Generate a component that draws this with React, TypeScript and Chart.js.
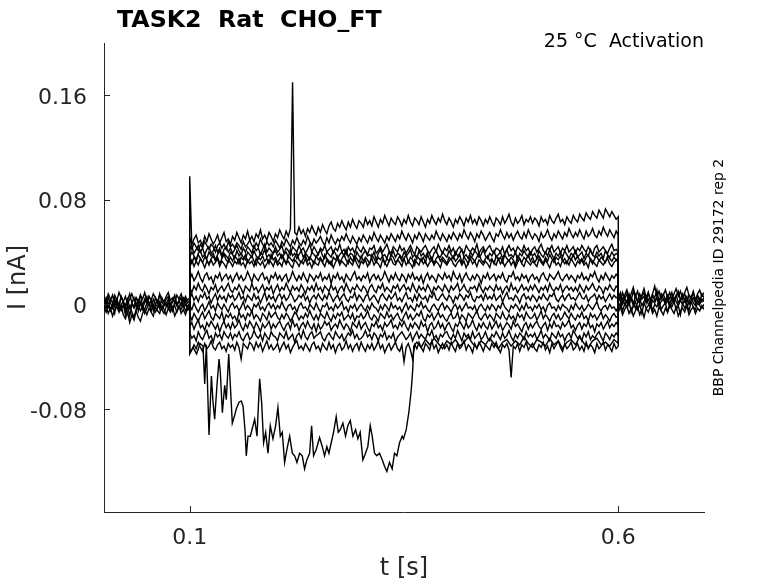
import React, { useEffect, useRef } from "react";
import { Chart, registerables, Plugin } from "chart.js";

Chart.register(...registerables);

// pulse protocol (s)
const pulseStart = 0.1;
const pulseEnd = 0.6;
const sweepEnd = 0.7;

const xTicks = [0.1, 0.6];
const yTicks = [-0.08, 0, 0.08, 0.16];

// currents in pA, evenly sampled (2.5 ms) from 0.1 s to 0.6 s
const trace1 = [
  51, 46, 50, 53, 47, 49, 45, 52, 48, 54, 50, 46, 49, 53, 47, 51, 55, 48, 50, 46,
  52, 49, 55, 51, 47, 53, 50, 56, 49, 52, 48, 54, 51, 57, 50, 53, 49, 55, 52, 48,
  54, 51, 57, 53, 50, 56, 52, 58, 170, 55, 53, 59, 54, 57, 52, 58, 55, 60, 56, 53,
  59, 55, 61, 57, 54, 60, 63, 58, 56, 62, 59, 64, 60, 57, 63, 59, 65, 61, 58, 64,
  62, 59, 66, 61, 64, 60, 67, 63, 59, 65, 62, 68, 64, 60, 66, 63, 61, 67, 64, 60,
  65, 62, 68, 63, 60, 66, 64, 61, 67, 63, 59, 65, 62, 68, 64, 61, 66, 63, 69, 64,
  61, 66, 63, 59, 65, 62, 67, 64, 60, 66, 63, 68, 62, 65, 61, 67, 64, 60, 65, 62,
  67, 63, 60, 66, 64, 61, 67, 62, 65, 69, 63, 60, 66, 62, 64, 68, 61, 65, 63, 67,
  62, 66, 64, 60, 67, 63, 65, 61, 68, 64, 62, 66, 69, 63, 65, 61, 67, 64, 62, 68,
  65, 63, 69, 66, 64, 70, 67, 65, 71, 68, 66, 72, 69, 66, 73, 70, 67, 71, 68, 65,
  67,
];
const trace2 = [
  45, 42, 47, 44, 41, 46, 43, 48, 45, 42, 46, 44, 40, 45, 47, 43, 46, 42, 48, 44,
  46, 43, 47, 45, 42, 48, 44, 46, 49, 45, 43, 47, 44, 50, 46, 43, 48, 45, 47, 44,
  49, 46, 43, 48, 45, 50, 47, 44, 49, 46, 51, 47, 45, 49, 46, 52, 48, 45, 50, 47,
  49, 52, 48, 45, 51, 47, 53, 49, 46, 50, 48, 52, 49, 54, 50, 47, 52, 49, 46, 51,
  48, 53, 50, 47, 52, 49, 55, 51, 48, 53, 50, 47, 52, 49, 54, 51, 48, 53, 50, 56,
  52, 49, 54, 51, 47, 53, 50, 55, 52, 48, 54, 51, 49, 53, 50, 56, 52, 49, 54, 51,
  48, 53, 50, 55, 52, 49, 54, 51, 57, 53, 50, 55, 52, 48, 54, 51, 56, 53, 49, 52,
  55, 51, 48, 54, 52, 57, 53, 50, 55, 51, 54, 49, 53, 56, 52, 50, 55, 51, 57, 53,
  50, 54, 52, 48, 55, 51, 53, 57, 52, 49, 54, 51, 56, 53, 50, 55, 52, 58, 54, 51,
  55, 52, 57, 53, 50, 56, 52, 54, 58, 53, 51, 56, 53, 59, 55, 52, 57, 54, 51, 56,
  53,
];
const trace3 = [
  98, 44, 39, 42, 45, 40, 43, 38, 42, 44, 39, 41, 45, 40, 43, 37, 42, 44, 40, 43,
  39, 42, 45, 41, 38, 43, 40, 44, 42, 39, 45, 41, 43, 38, 42, 46, 40, 43, 41, 39,
  44, 40, 42, 45, 39, 43, 41, 38, 44, 42, 40, 45, 41, 43, 39, 42, 46, 40, 44, 41,
  38, 43, 41, 45, 40, 42, 44, 39, 43, 41, 46, 40, 42, 38, 44, 41, 43, 39, 45, 42,
  40, 44, 41, 38, 43, 42, 45, 39, 41, 44, 40, 43, 46, 41, 39, 44, 42, 40, 45, 41,
  43, 39, 42, 45, 41, 38, 44, 42, 40, 43, 45, 41, 39, 42, 44, 40, 46, 42, 39, 43,
  41, 45, 40, 43, 38, 42, 44, 41, 39, 45, 42, 40, 43, 41, 46, 39, 42, 44, 40, 43,
  45, 41, 39, 43, 42, 40, 44, 38, 42, 45, 41, 43, 39, 44, 42, 40, 45, 41, 43, 38,
  42, 44, 40, 43, 46, 41, 39, 43, 42, 45, 40, 42, 44, 39, 43, 41, 45, 40, 42, 44,
  39, 43, 41, 45, 42, 40, 44, 41, 38, 43, 45, 40, 42, 44, 41, 39, 43, 46, 41, 42,
  40,
];
const trace4 = [
  36, 40, 37, 34, 39, 41, 36, 38, 35, 40, 37, 39, 34, 38, 41, 36, 39, 37, 35, 40,
  38, 35, 41, 37, 39, 36, 34, 40, 38, 36, 41, 37, 35, 39, 38, 42, 36, 38, 35, 39,
  41, 37, 39, 35, 38, 40, 36, 42, 37, 39, 35, 38, 41, 36, 39, 37, 34, 40, 38, 36,
  39, 42, 37, 35, 40, 38, 36, 41, 39, 35, 38, 40, 37, 42, 36, 39, 38, 34, 40, 37,
  35, 39, 41, 37, 38, 36, 40, 34, 39, 42, 37, 38, 35, 40, 37, 41, 36, 39, 38, 35,
  40, 37, 39, 42, 36, 38, 35, 41, 37, 39, 36, 40, 38, 34, 39, 41, 37, 36, 40, 38,
  36, 41, 38, 35, 40, 37, 39, 42, 36, 38, 35, 40, 37, 41, 39, 36, 38, 42, 37, 35,
  39, 37, 41, 36, 38, 40, 35, 39, 42, 37, 38, 36, 40, 34, 39, 37, 41, 38, 36, 40,
  37, 39, 35, 41, 38, 36, 40, 37, 42, 38, 35, 39, 37, 40, 36, 41, 38, 35, 39, 37,
  41, 36, 38, 40, 35, 39, 37, 42, 38, 36, 40, 37, 39, 35, 41, 38, 36, 40, 37, 39,
  38,
];
const trace5 = [
  34, 31, 36, 33, 38, 35, 32, 36, 34, 30, 35, 37, 33, 36, 31, 35, 38, 34, 32, 36,
  33, 37, 35, 31, 36, 34, 38, 32, 35, 37, 33, 30, 36, 34, 37, 33, 35, 31, 38, 34,
  36, 32, 35, 38, 34, 31, 37, 35, 33, 36, 39, 34, 32, 35, 37, 33, 36, 34, 31, 37,
  34, 36, 32, 38, 35, 33, 30, 36, 34, 37, 32, 35, 38, 34, 31, 36, 33, 37, 35, 32,
  37, 33, 36, 34, 31, 38, 35, 32, 36, 34, 37, 31, 35, 33, 38, 36, 32, 34, 37, 33,
  35, 38, 32, 36, 34, 30, 37, 35, 33, 36, 32, 38, 34, 36, 31, 35, 37, 33, 36, 34,
  31, 36, 34, 37, 33, 35, 38, 32, 36, 34, 31, 37, 35, 33, 36, 39, 34, 32, 35, 37,
  33, 35, 31, 37, 34, 36, 32, 38, 35, 33, 36, 34, 30, 37, 35, 32, 36, 34, 38, 33,
  36, 32, 35, 37, 34, 31, 36, 33, 38, 35, 32, 36, 34, 37, 33, 35, 31, 36, 34, 38,
  34, 37, 33, 35, 32, 36, 38, 34, 31, 35, 37, 33, 36, 34, 32, 37, 35, 33, 36, 34,
  35,
];
const trace6 = [
  31, 34, 29, 33, 30, 35, 32, 28, 33, 31, 34, 30, 32, 35, 29, 33, 31, 28, 34, 32,
  29, 33, 31, 35, 30, 32, 28, 34, 31, 33, 29, 35, 32, 30, 33, 28, 31, 34, 32, 29,
  34, 30, 32, 29, 35, 31, 33, 30, 28, 34, 32, 29, 33, 31, 35, 30, 32, 28, 33, 31,
  30, 35, 32, 29, 34, 31, 33, 28, 32, 35, 30, 33, 31, 29, 34, 32, 30, 35, 31, 28,
  33, 31, 34, 29, 32, 35, 30, 33, 31, 28, 34, 32, 29, 33, 35, 31, 30, 34, 32, 29,
  35, 30, 33, 31, 28, 34, 32, 30, 35, 31, 33, 29, 32, 34, 30, 33, 31, 28, 34, 32,
  30, 33, 35, 31, 29, 32, 34, 30, 33, 28, 32, 35, 31, 33, 29, 34, 32, 30, 33, 31,
  28, 34, 32, 30, 35, 31, 33, 29, 32, 34, 30, 33, 28, 32, 35, 31, 29, 34, 32, 30,
  33, 31, 29, 35, 32, 30, 34, 31, 28, 33, 35, 30, 32, 29, 34, 31, 33, 30, 35, 32,
  29, 33, 31, 34, 30, 32, 28, 35, 33, 31, 29, 34, 32, 30, 33, 35, 31, 29, 32, 34,
  32,
];
const trace7 = [
  19, 23, 18, 21, 25, 20, 17, 22, 24, 19, 21, 16, 22, 20, 24, 18, 21, 23, 19, 22,
  17, 21, 24, 19, 22, 18, 20, 25, 21, 17, 23, 20, 18, 22, 24, 19, 21, 16, 22, 20,
  24, 19, 22, 18, 21, 23, 17, 20, 25, 21, 18, 22, 19, 24, 20, 17, 23, 21, 18, 22,
  20, 24, 18, 21, 19, 23, 16, 22, 20, 24, 19, 21, 17, 23, 20, 18, 22, 25, 19, 21,
  18, 22, 20, 24, 17, 21, 23, 19, 22, 18, 20, 25, 21, 17, 22, 19, 24, 20, 18, 23,
  21, 17, 23, 20, 24, 19, 21, 18, 22, 16, 21, 24, 19, 22, 20, 17, 23, 21, 19, 24,
  20, 22, 18, 25, 21, 19, 23, 17, 21, 24, 20, 18, 22, 19, 23, 21, 16, 22, 20, 24,
  19, 21, 23, 18, 22, 20, 24, 19, 17, 22, 21, 25, 19, 21, 18, 23, 20, 22, 17, 21,
  23, 19, 21, 17, 22, 24, 20, 18, 23, 21, 19, 22, 25, 20, 18, 21, 23, 19, 22, 20,
  17, 22, 20, 24, 19, 21, 18, 23, 21, 25, 20, 17, 22, 19, 24, 21, 18, 22, 20, 23,
  21,
];
const trace8 = [
  13, 9, 14, 11, 16, 12, 10, 15, 12, 8, 13, 11, 15, 9, 12, 14, 10, 13, 16, 11,
  9, 13, 11, 15, 12, 8, 14, 12, 10, 16, 11, 13, 9, 12, 15, 10, 13, 11, 14, 8,
  12, 15, 10, 13, 11, 16, 12, 9, 14, 11, 13, 10, 15, 12, 8, 13, 11, 14, 10, 16,
  11, 13, 9, 14, 12, 10, 15, 11, 13, 8, 12, 14, 10, 16, 12, 9, 13, 11, 15, 12,
  10, 14, 12, 8, 13, 15, 11, 9, 14, 12, 16, 10, 13, 11, 9, 14, 12, 15, 10, 13,
  15, 11, 13, 10, 16, 12, 9, 14, 11, 13, 10, 15, 12, 8, 13, 11, 14, 12, 10, 15,
  12, 9, 14, 11, 13, 16, 10, 12, 15, 11, 9, 13, 12, 14, 10, 16, 12, 9, 13, 11,
  14, 12, 10, 15, 11, 13, 8, 12, 14, 10, 16, 11, 13, 9, 12, 15, 11, 13, 10, 14,
  11, 15, 12, 9, 13, 11, 14, 10, 16, 12, 10, 13, 11, 15, 9, 12, 14, 11, 13, 10,
  13, 10, 15, 12, 9, 14, 11, 13, 16, 12, 10, 14, 12, 8, 13, 11, 15, 12, 10, 14,
  12,
];
const trace9 = [
  4, 8, 3, 6, 2, 7, 5, 9, 4, 6, 1, 5, 8, 3, 7, 4, 6, 2, 8, 5,
  7, 3, 5, 9, 4, 6, 2, 7, 5, 3, 8, 4, 6, 1, 5, 9, 3, 7, 4, 6,
  2, 6, 8, 4, 7, 3, 5, 9, 6, 2, 4, 7, 5, 8, 3, 6, 1, 5, 7, 4,
  8, 5, 3, 7, 4, 9, 6, 2, 5, 7, 3, 6, 8, 4, 2, 6, 5, 9, 3, 7,
  5, 2, 6, 8, 3, 5, 7, 4, 1, 6, 8, 5, 3, 7, 4, 6, 9, 3, 5, 2,
  6, 9, 4, 5, 2, 7, 3, 8, 5, 4, 6, 2, 7, 5, 9, 4, 3, 6, 8, 5,
  3, 7, 5, 1, 6, 4, 8, 6, 3, 7, 5, 9, 4, 2, 6, 5, 7, 3, 8, 4,
  6, 4, 8, 3, 5, 7, 2, 6, 9, 4, 5, 3, 7, 5, 1, 6, 8, 4, 6, 3,
  7, 5, 2, 6, 4, 8, 5, 3, 7, 6, 9, 4, 2, 5, 7, 3, 6, 8, 4, 5,
  3, 6, 9, 5, 4, 7, 2, 5, 6, 8, 3, 7, 4, 6, 2, 5, 8, 4, 7, 5,
  6,
];
const trace10 = [
  -1, -4, 1, -3, -6, -2, 0, -5, -2, 2, -3, -1, -5, 1, -2, -4, 0, -3, -6, -1,
  1, -3, -1, -5, -2, 2, -4, -1, -3, -6, 0, -2, 1, -4, -2, -5, -1, 1, -3, 0,
  -4, -1, -3, 2, -2, -5, -1, 0, -4, -2, -6, -1, 1, -3, -2, -5, 0, -2, -4, 1,
  -3, -6, -1, -2, 1, -4, -2, -5, 0, -3, -1, 2, -4, -2, -6, -1, -3, 0, -5, -2,
  0, -3, -5, -1, -4, 1, -2, -3, -6, -1, -4, 0, -2, -5, 1, -3, -1, -4, -2, -6,
  -2, 1, -4, -1, -3, -5, 0, -2, 2, -3, -1, -4, -6, -2, 0, -3, -5, -1, 1, -4,
  -1, -3, -6, -2, 0, -4, -1, -5, -2, 1, -3, -2, -4, -1, -6, -2, 0, -3, -5, -1,
  -4, 0, -2, -5, -1, -3, 2, -2, -4, -6, -1, -3, 0, -2, -5, -1, -4, 1, -3, -2,
  -5, -1, -3, 0, -4, -2, -6, -1, 1, -3, -2, -5, -1, -4, 0, -2, -3, -6, -1, -4,
  1, -2, -4, -1, -5, -3, 0, -2, -4, -1, 2, -3, -5, -2, -1, -4, 0, -3, -2, -5,
  -2,
];
const trace11 = [
  -8, -12, -7, -10, -13, -9, -6, -11, -8, -5, -10, -12, -7, -9, -11, -6, -13, -8, -10, -7,
  -11, -9, -13, -6, -10, -8, -12, -7, -9, -5, -11, -8, -10, -13, -7, -9, -12, -6, -10, -8,
  -6, -10, -12, -8, -11, -7, -9, -13, -10, -6, -8, -12, -9, -11, -7, -10, -5, -9, -12, -8,
  -12, -7, -9, -11, -6, -10, -13, -8, -11, -7, -9, -6, -12, -10, -8, -11, -7, -13, -9, -10,
  -7, -11, -9, -5, -10, -12, -8, -10, -13, -7, -9, -11, -6, -10, -8, -12, -9, -7, -11, -13,
  -9, -6, -11, -8, -12, -10, -7, -9, -5, -11, -13, -8, -10, -7, -12, -9, -6, -10, -8, -11,
  -13, -9, -7, -11, -10, -6, -12, -8, -10, -13, -7, -9, -11, -8, -5, -10, -12, -9, -7, -11,
  -8, -10, -13, -7, -9, -11, -6, -10, -12, -8, -11, -9, -13, -7, -10, -8, -12, -6, -9, -11,
  -10, -7, -12, -9, -5, -11, -8, -10, -13, -9, -7, -11, -8, -12, -10, -6, -9, -11, -7, -10,
  -12, -8, -10, -6, -11, -9, -13, -7, -10, -8, -12, -9, -6, -11, -8, -10, -13, -9, -7, -10,
  -9,
];
const trace12 = [
  -17, -14, -19, -15, -12, -18, -16, -20, -14, -17, -13, -16, -19, -15, -21, -16, -13, -18, -15, -19,
  -14, -18, -16, -12, -17, -20, -15, -18, -13, -16, -19, -14, -17, -21, -15, -18, -16, -13, -19, -15,
  -18, -15, -13, -17, -20, -16, -14, -19, -12, -17, -15, -20, -16, -14, -18, -13, -17, -19, -15, -21,
  -15, -19, -17, -13, -16, -14, -20, -17, -15, -18, -12, -16, -19, -15, -17, -21, -14, -16, -18, -13,
  -19, -16, -14, -18, -21, -15, -17, -13, -18, -16, -20, -14, -17, -15, -12, -18, -16, -19, -14, -17,
  -13, -17, -20, -15, -18, -14, -16, -19, -13, -17, -15, -21, -16, -14, -19, -17, -13, -18, -15, -20,
  -16, -14, -18, -21, -15, -17, -13, -16, -19, -14, -18, -16, -12, -17, -20, -15, -18, -14, -17, -19,
  -14, -19, -16, -13, -18, -15, -20, -17, -14, -16, -19, -13, -17, -15, -18, -21, -16, -14, -19, -15,
  -18, -15, -13, -17, -19, -16, -14, -20, -15, -18, -13, -17, -16, -19, -14, -17, -15, -12, -18, -16,
  -20, -16, -14, -19, -15, -17, -13, -18, -16, -21, -15, -17, -14, -19, -16, -13, -18, -15, -17, -14,
  -16,
];
const trace13 = [
  -22, -26, -24, -28, -21, -25, -27, -23, -20, -26, -24, -29, -22, -25, -23, -27, -21, -24, -26, -22,
  -27, -23, -25, -21, -26, -28, -24, -22, -27, -25, -20, -24, -26, -23, -28, -22, -25, -27, -21, -24,
  -25, -28, -22, -24, -26, -21, -27, -25, -23, -29, -24, -22, -26, -20, -25, -27, -23, -21, -26, -24,
  -23, -21, -26, -28, -24, -22, -25, -27, -21, -24, -26, -23, -28, -25, -22, -24, -20, -26, -23, -27,
  -26, -24, -20, -25, -23, -27, -22, -24, -28, -23, -25, -21, -27, -24, -26, -22, -29, -25, -23, -21,
  -24, -27, -25, -22, -28, -24, -21, -26, -23, -25, -27, -22, -24, -20, -26, -24, -28, -23, -25, -22,
  -21, -25, -27, -23, -26, -20, -24, -28, -22, -25, -23, -27, -21, -26, -24, -22, -27, -25, -21, -26,
  -28, -23, -25, -21, -24, -27, -22, -26, -24, -20, -25, -28, -23, -26, -22, -24, -27, -21, -25, -23,
  -25, -22, -27, -24, -20, -26, -23, -25, -28, -22, -24, -26, -21, -25, -23, -28, -24, -22, -26, -20,
  -23, -26, -24, -28, -22, -25, -21, -27, -24, -26, -23, -21, -25, -28, -22, -24, -27, -23, -25, -22,
  -24,
];
const trace14 = [
  -38, -35, -31, -34, -29, -33, -36, -30, -34, -32, -28, -33, -35, -31, -29, -34, -32, -36, -30, -33,
  -31, -35, -29, -33, -42, -30, -32, -34, -29, -31, -35, -29, -33, -30, -36, -32, -28, -34, -31, -35,
  -33, -30, -36, -32, -29, -34, -31, -37, -33, -30, -28, -34, -32, -35, -30, -33, -36, -31, -29, -34,
  -32, -36, -30, -33, -35, -29, -34, -31, -37, -32, -30, -35, -33, -28, -34, -31, -36, -32, -30, -35,
  -29, -33, -36, -31, -34, -30, -35, -32, -28, -34, -31, -37, -33, -30, -35, -32, -29, -34, -36, -31,
  -44, -33, -30, -35, -42, -31, -34, -29, -33, -36, -30, -32, -35, -28, -34, -31, -37, -33, -30, -34,
  -31, -35, -29, -33, -36, -30, -34, -32, -28, -35, -31, -33, -37, -30, -34, -29, -32, -36, -31, -33,
  -35, -30, -33, -29, -34, -37, -31, -33, -30, -35, -56, -32, -34, -30, -36, -31, -33, -29, -35, -32,
  -30, -34, -36, -31, -33, -29, -35, -32, -37, -30, -34, -31, -28, -33, -36, -30, -34, -32, -29, -35,
  -33, -30, -35, -32, -36, -29, -34, -31, -33, -37, -30, -34, -32, -29, -35, -31, -33, -36, -30, -34,
  -32,
];

// the sweep with the large inward current: times (s) and currents (pA)
const dipTimes = [
  0.1, 0.104, 0.108, 0.112, 0.1155, 0.1175, 0.1194, 0.1225, 0.1253, 0.1272,
  0.1291, 0.1318, 0.1342, 0.1357, 0.1381, 0.1408, 0.1427, 0.1455, 0.1474, 0.1497,
  0.1524, 0.1544, 0.1575, 0.1602, 0.1622, 0.1645, 0.166, 0.168, 0.1707, 0.1738,
  0.1758, 0.1785, 0.1816, 0.1839, 0.1862, 0.1886, 0.1913, 0.194, 0.1971, 0.2002,
  0.2029, 0.2057, 0.208, 0.2107, 0.2134, 0.2166, 0.2197, 0.2224, 0.2251, 0.2282,
  0.2313, 0.234, 0.2367, 0.2399, 0.2422, 0.2445, 0.2477, 0.2515, 0.2547, 0.2573,
  0.26, 0.2624, 0.2651, 0.2678, 0.2709, 0.2733, 0.2756, 0.2787, 0.2818, 0.2845,
  0.2873, 0.2904, 0.2935, 0.2962, 0.2989, 0.302, 0.3051, 0.3078, 0.3106, 0.3129,
  0.3156, 0.3183, 0.3214, 0.3246, 0.3273, 0.33, 0.3331, 0.3362, 0.3389, 0.3417,
  0.3448, 0.3479, 0.3494, 0.3526, 0.3556, 0.3584, 0.3602, 0.3614,
];
const dipValues = [
  -37, -33, -38, -30, -32, -61, -31, -100, -55, -75,
  -88, -62, -42, -52, -83, -62, -73, -38, -62, -91,
  -85, -80, -75, -74, -78, -96, -116, -101, -101, -93,
  -88, -101, -57, -75, -106, -98, -114, -93, -103, -93,
  -79, -101, -98, -121, -111, -101, -114, -116, -121, -114,
  -116, -126, -119, -114, -93, -116, -111, -102, -109, -116,
  -109, -114, -106, -98, -86, -98, -96, -91, -101, -93,
  -89, -101, -96, -103, -98, -119, -114, -109, -93, -101,
  -114, -116, -114, -119, -124, -128, -121, -126, -114, -116,
  -106, -101, -103, -96, -83, -66, -50, -32,
];
// the same sweep once the inward current has gone, 5 ms apart from 0.365 s
const tailValues = [
  -29, -33, -27, -31, -26, -30, -34, -28, -31, -27, -32, -29, -25, -30, -33, -28,
  -31, -26, -30, -34, -29, -27, -32, -28, -31, -25, -30, -33, -27, -29, -32, -26,
  -31, -28, -34, -29, -27, -31, -25, -30, -33, -28, -26, -31, -29, -32, -27, -30,
];
const tailStart = 0.365;

// holding current before (0-0.1 s) and after (0.6-0.7 s) the pulse, pA
const preBase1 = [3, -1, 5, 1, -3, 4, 0, -2, 6, 2, -1, 4, -3, 1, 5, -2, 3, 0, -4, 2, 6, 1, -2, 4, 0, 3, -3, 5, 1, -1, 4, -2, 2, 6, 0, 3, -1, 5, 2, -2, 1];
const preBase2 = [-3, 2, -1, -5, 1, -2, 3, -4, 0, 2, -6, -1, -9, 0, -3, 1, -5, 2, -2, -4, 1, -1, 3, -5, 0, -2, 2, -4, -1, 1, -3, 0, -5, 2, -1, -3, 1, -2, 0, -4, -1];
const preBase3 = [6, 2, 8, 4, 1, 7, 3, 9, 5, 2, 6, 0, 4, 8, 3, 5, 1, 7, 4, 9, 2, 6, 3, 8, 5, 1, 7, 4, 2, 6, 9, 3, 5, 1, 7, 4, 8, 2, 6, 3, 5];
const preBase4 = [-5, -1, -7, -3, -9, -4, -2, -6, -1, -8, -11, -6, -14, -8, -12, -5, -10, -13, -7, -4, -8, -3, -6, -9, -2, -5, -7, -1, -4, -8, -3, -6, -2, -9, -5, -1, -7, -4, -8, -3, -5];
const preBase5 = [1, 5, -2, 3, 7, 0, 4, -1, 6, 2, -3, 3, 8, 1, -2, 5, 2, 7, -1, 4, 0, 6, 3, -2, 5, 1, 8, 2, -1, 4, 6, 0, 3, 7, -1, 2, 5, -2, 4, 1, 3];
const preBase6 = [-2, -6, 1, -4, -1, -7, 2, -3, -5, 0, -8, -3, -1, -6, -10, -4, 0, -5, -2, -7, -3, 1, -5, -1, -6, -3, 0, -4, -7, -2, 1, -5, -3, -1, -6, -2, -4, 0, -5, -3, -1];
const postBase1 = [5, 9, 3, 7, 11, 4, 8, 13, 6, 10, 2, 7, 12, 5, 9, 3, 8, 14, 6, 10, 4, 7, 11, 5, 9, 3, 8, 12, 6, 10, 4, 9, 13, 7, 5, 10, 3, 8, 11, 6, 9];
const postBase2 = [-3, 1, -5, 0, -2, 3, -6, -1, 2, -4, 0, -7, 1, -3, -1, 2, -5, 0, -2, 3, -4, -1, 1, -6, 0, -2, 2, -4, -1, -8, 1, -3, 0, -5, 2, -2, -4, 1, -1, -3, 0];
const postBase3 = [1, -2, 4, 0, 3, -1, 5, 2, -3, 1, 4, -1, 2, 6, 0, -2, 3, 1, 5, -1, 2, 4, 0, 3, -2, 1, 5, 2, -1, 3, 0, 4, -2, 2, 6, 1, -1, 3, 0, 4, 2];
const postBase4 = [7, 2, 9, 4, 1, 8, 3, 10, 5, 2, 8, 4, 6, 1, 9, 3, 7, 5, 11, 2, 6, 8, 3, 7, 4, 9, 2, 6, 10, 3, 5, 8, 1, 7, 4, 9, 3, 6, 2, 8, 5];
const postBase5 = [-6, -2, -8, -4, -1, -7, -3, -9, -5, -2, -8, -4, -10, -3, -6, -1, -7, -4, -9, -2, -5, -8, -3, -6, -1, -4, -7, -2, -9, -5, -3, -6, -1, -8, -4, -2, -7, -3, -5, -1, -4];
const postBase6 = [3, 6, 0, 4, 8, 2, 5, -1, 7, 3, 1, 6, 9, 2, 4, 0, 7, 3, 5, 1, 8, 4, 2, 6, 0, 5, 3, 7, 1, 4, 8, 2, 6, 0, 3, 5, 1, 7, 4, 2, 5];

const stepTraces = [
  trace1, trace2, trace3, trace4, trace5, trace6, trace7,
  trace8, trace9, trace10, trace11, trace12, trace13, trace14,
];
const preBases = [preBase1, preBase2, preBase3, preBase4, preBase5, preBase6];
const postBases = [postBase1, postBase2, postBase3, postBase4, postBase5, postBase6];

const axisColor = "#262626";
const fontFamily = "'DejaVu Sans', sans-serif";

const pA = (v: number) => v / 1000;

// evenly sampled values between t0 and t1
const sampled = (vals: number[], t0: number, t1: number) =>
  vals.map((v, i) => ({ x: t0 + (i * (t1 - t0)) / (vals.length - 1), y: pA(v) }));

const decorations: Plugin = {
  id: "decorations",
  afterDraw(chart) {
    const { ctx, chartArea, scales } = chart;
    const x = scales.x;
    const y = scales.y;
    ctx.save();
    // inward tick marks
    ctx.strokeStyle = axisColor;
    ctx.lineWidth = 1;
    ctx.beginPath();
    xTicks.forEach((v) => {
      const px = Math.round(x.getPixelForValue(v)) + 0.5;
      ctx.moveTo(px, chartArea.bottom);
      ctx.lineTo(px, chartArea.bottom - 6);
    });
    yTicks.forEach((v) => {
      const py = Math.round(y.getPixelForValue(v)) + 0.5;
      ctx.moveTo(chartArea.left, py);
      ctx.lineTo(chartArea.left + 6, py);
    });
    ctx.stroke();

    ctx.fillStyle = "#000";
    ctx.textBaseline = "alphabetic";
    ctx.font = `bold 23.7px ${fontFamily}`;
    ctx.textAlign = "left";
    ctx.fillText("TASK2  Rat  CHO_FT", 117, 27);

    ctx.font = `19px ${fontFamily}`;
    ctx.textAlign = "right";
    ctx.fillText("25 °C  Activation", 704, 47);

    ctx.font = `14px ${fontFamily}`;
    ctx.textAlign = "center";
    ctx.translate(723, (chartArea.top + chartArea.bottom) / 2);
    ctx.rotate(-Math.PI / 2);
    ctx.fillText("BBP Channelpedia ID 29172 rep 2", 0, 0);
    ctx.restore();
  },
};

const App: React.FC = () => {
  const canvasRef = useRef<HTMLCanvasElement>(null);
  const chartRef = useRef<Chart>();

  useEffect(() => {
    if (!canvasRef.current) return;
    const ctx = canvasRef.current.getContext("2d");
    if (!ctx) return;

    const line = { borderColor: "#000", borderWidth: 1.4, pointRadius: 0, tension: 0, fill: false };

    const datasets: any[] = [];
    preBases.forEach((vals) => {
      datasets.push({ ...line, data: sampled(vals, 0, pulseStart) });
    });
    postBases.forEach((vals) => {
      datasets.push({ ...line, data: sampled(vals, pulseEnd, sweepEnd) });
    });
    stepTraces.forEach((vals) => {
      datasets.push({
        ...line,
        data: [{ x: pulseStart, y: 0 }, ...sampled(vals, pulseStart, pulseEnd), { x: pulseEnd, y: 0 }],
      });
    });
    datasets.push({
      ...line,
      data: [
        { x: pulseStart, y: 0 },
        ...dipValues.map((v, i) => ({ x: dipTimes[i], y: pA(v) })),
        ...sampled(tailValues, tailStart, pulseEnd),
        { x: pulseEnd, y: 0 },
      ],
    });

    if (chartRef.current) chartRef.current.destroy();
    chartRef.current = new Chart(ctx, {
      type: "line",
      data: { datasets },
      options: {
        animation: false,
        responsive: false,
        events: [],
        layout: { padding: { top: 43, right: 74, left: 0, bottom: 0 } },
        plugins: {
          legend: { display: false },
          tooltip: { enabled: false },
          title: { display: false },
        },
        scales: {
          x: {
            type: "linear",
            min: 0,
            max: sweepEnd,
            afterBuildTicks: (s: any) => {
              s.ticks = xTicks.map((v) => ({ value: v }));
            },
            afterFit: (s: any) => {
              s.height = 71;
            },
            grid: { display: false, drawTicks: false },
            border: { display: true, color: axisColor, width: 1 },
            ticks: {
              padding: 13,
              maxRotation: 0,
              color: axisColor,
              font: { family: fontFamily, size: 22 },
              callback: (v: any) => String(v),
            },
            title: {
              display: true,
              text: "t [s]",
              color: axisColor,
              font: { family: fontFamily, size: 24 },
              padding: { top: 0, bottom: 0 },
            },
          },
          y: {
            type: "linear",
            min: -0.159,
            max: 0.2,
            afterBuildTicks: (s: any) => {
              s.ticks = yTicks.map((v) => ({ value: v }));
            },
            afterFit: (s: any) => {
              s.width = 104;
            },
            grid: { display: false, drawTicks: false },
            border: { display: true, color: axisColor, width: 1 },
            ticks: {
              padding: 17,
              labelOffset: 3,
              color: axisColor,
              font: { family: fontFamily, size: 22 },
              callback: (v: any) => String(v),
            },
            title: {
              display: true,
              text: "I [nA]",
              color: axisColor,
              font: { family: fontFamily, size: 24 },
              padding: { top: 4, bottom: 0 },
            },
          },
        },
      },
      plugins: [decorations],
    });

    return () => {
      if (chartRef.current) {
        chartRef.current.destroy();
        chartRef.current = undefined;
      }
    };
  }, []);

  return (
    <canvas
      ref={canvasRef}
      width={778}
      height={583}
      style={{ position: "absolute", left: 0, top: 0, width: 778, height: 583, background: "#fff" }}
    />
  );
};

export default App;
